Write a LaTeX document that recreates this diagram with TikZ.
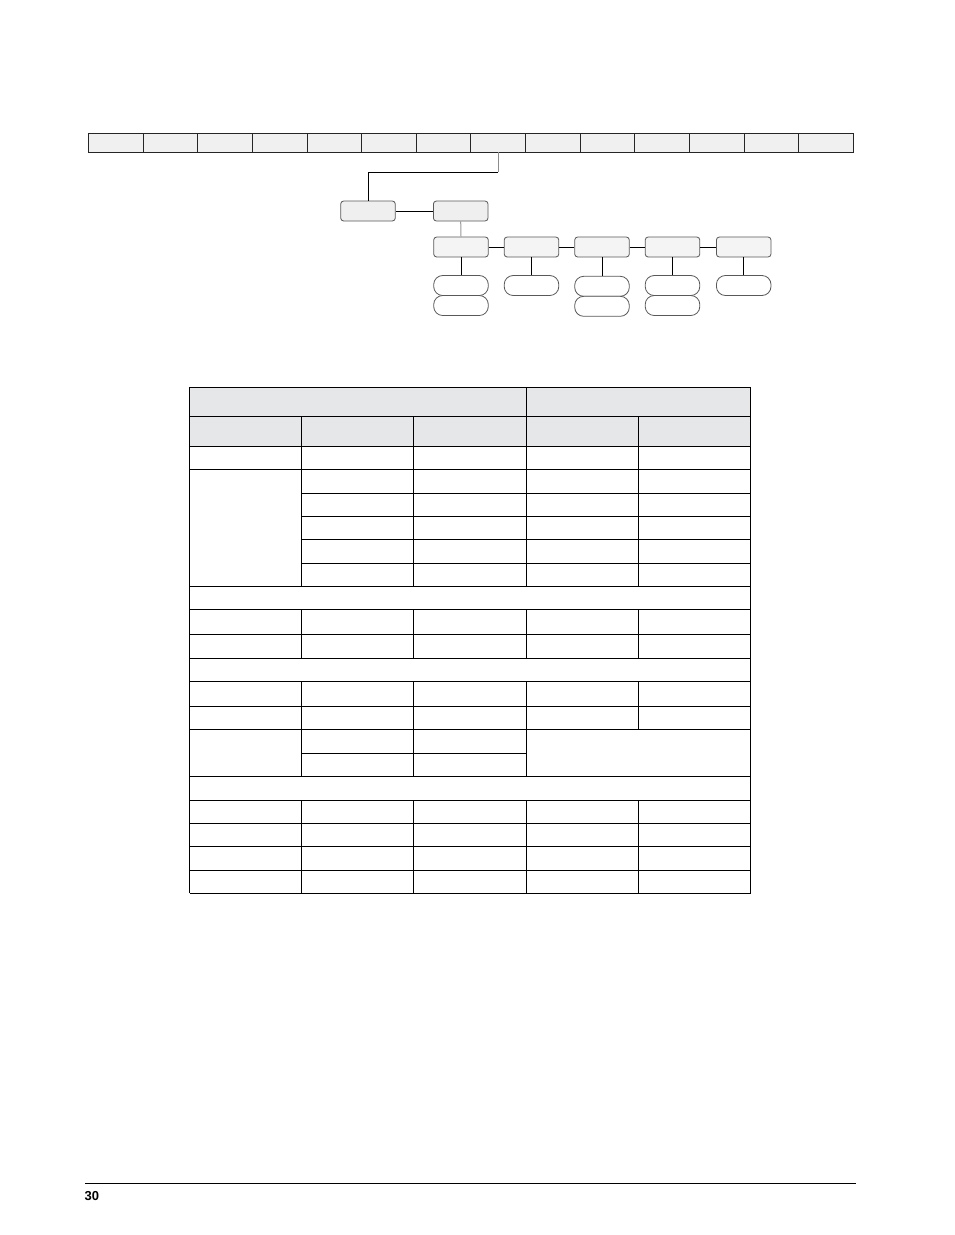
\documentclass[tikz,border=0pt]{standalone}
\usepackage{fontspec}
\setmainfont{Liberation Sans}
\definecolor{cellgray}{HTML}{F0F0F0}
\definecolor{boxgray}{HTML}{EFEFEF}
\definecolor{subgray}{HTML}{F4F4F4}
\definecolor{hdrgray}{HTML}{E6E7E8}
\tikzset{
  cell/.style={draw=black!85, fill=cellgray, line width=0.9pt, minimum width=54.6pt, minimum height=18.7pt, inner sep=0pt},
  menubox/.style={draw=black!65, fill=boxgray, line width=0.8pt, rounded corners=3pt, minimum width=54.6pt, minimum height=20pt, inner sep=0pt},
  subbox/.style={menubox, fill=subgray},
  choice/.style={draw=black!65, fill=white, line width=0.8pt, rounded corners=9pt, minimum width=54.6pt, minimum height=20pt, inner sep=0pt},
  link/.style={line width=1pt, black},
  rule/.style={line width=1.3pt, black}
}
\begin{document}
\begin{tikzpicture}[x=1pt,y=-1pt]
\useasboundingbox[fill=white] (0,0) rectangle (954,1235);

% menu strip
\foreach \i in {1,...,14}
  \node [cell] (c\i) at ({88.5+(\i-0.5)*54.63},142.6) {};

\node [menubox] (a) at (368,211) {};
\node [menubox] (b) at (460.7,211) {};
\node [subbox] (r1) at (461,247) {};
\node [subbox] (r2) at (531.5,247) {};
\node [subbox] (r3) at (602,247) {};
\node [subbox] (r4) at (672.5,247) {};
\node [subbox] (r5) at (743.7,247) {};

\node [choice] (o11) at (461,285.5) {};
\node [choice] (o12) at (461,305.5) {};
\node [choice] (o21) at (531.5,285.5) {};
\node [choice] (o31) at (602,286.3) {};
\node [choice] (o32) at (602,306.3) {};
\node [choice] (o41) at (672.5,285.5) {};
\node [choice] (o42) at (672.5,305.5) {};
\node [choice] (o51) at (743.7,285.5) {};

\coordinate (j1) at (c8.south |- 0,172.3);
\draw [link, black!45] (c8.south) -- (j1);
\draw [link] (j1) -| (a.north);
\draw [link] (a.east) -- (b.west);
\draw [link, black!40] (b.south) -- (r1.north);
\foreach \p/\q in {r1/r2, r2/r3, r3/r4, r4/r5}
  \draw [link] (\p.east) -- (\q.west);
\foreach \n in {1,...,5}
  \draw [link] (r\n.south) -- (o\n1.north);

% table
\fill [hdrgray] (189.7,387.3) rectangle (750.7,446.3);
\foreach \y in {387.3,416.3,446.3,469.3,586.3,609.3,634.3,658.3,681.3,706.3,729.3,776.3,800.3,823.3,846.3,870.3,893.3}
  \draw [rule] (189.7,\y) -- (750.7,\y);
\foreach \y in {493.3,516.3,539.7,563.3}
  \draw [rule] (301.3,\y) -- (750.7,\y);
\draw [rule] (301.3,753.3) -- (526.3,753.3);
\foreach \x in {189.7,750.7}
  \draw [rule] (\x,387.3) -- (\x,893.3);
\foreach \t/\u in {387.3/586.3, 609.3/658.3, 681.3/776.3, 800.3/893.3}
  \draw [rule] (526.3,\t) -- (526.3,\u);
\foreach \x in {301.3,413.3}
  \foreach \t/\u in {416.3/586.3, 609.3/658.3, 681.3/776.3, 800.3/893.3}
    \draw [rule] (\x,\t) -- (\x,\u);
\foreach \t/\u in {416.3/586.3, 609.3/658.3, 681.3/729.3, 800.3/893.3}
  \draw [rule] (638.7,\t) -- (638.7,\u);

% footer
\draw [line width=1pt] (85,1183.7) -- (856,1183.7);
\node [anchor=west, inner sep=0pt, font=\fontsize{13}{15}\selectfont\bfseries] (pg) at (84.5,1196.5) {30};

\end{tikzpicture}
\end{document}
